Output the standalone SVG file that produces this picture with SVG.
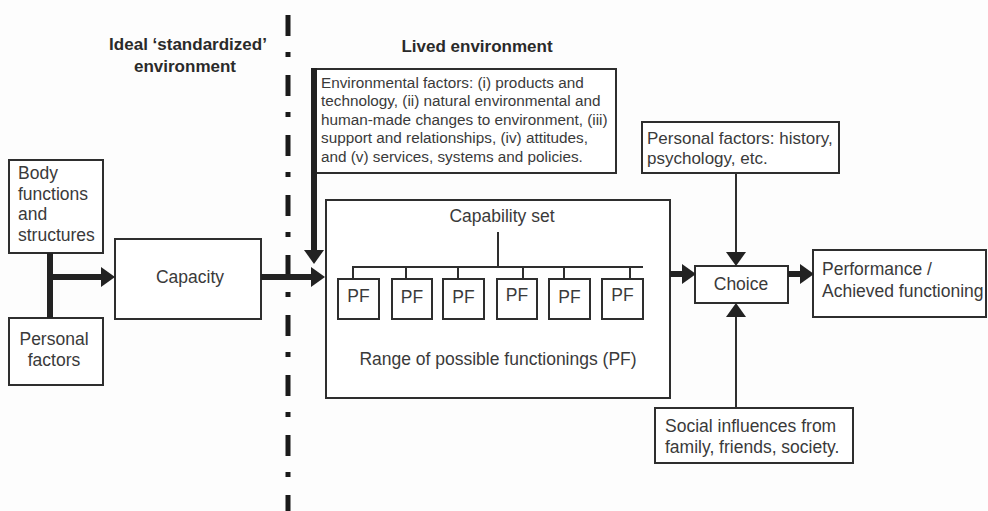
<svg xmlns="http://www.w3.org/2000/svg" width="988" height="511" viewBox="0 0 988 511">
<style>
.box{fill:#fff;stroke:#2e2e2e;stroke-width:2}
.t{font-family:"Liberation Sans",Arial,sans-serif;font-size:17.5px;fill:#3a3a3a}
.s{font-size:15.3px}
.p{font-size:17px}
.b{font-weight:bold;font-size:17px;fill:#2a2a2a}
.m{text-anchor:middle}
.thick{stroke:#222;stroke-width:6;fill:none}
.thin{stroke:#2e2e2e;stroke-width:2;fill:none}
</style>
<defs>
<marker id="ah" markerUnits="userSpaceOnUse" viewBox="0 0 14 20" markerWidth="14" markerHeight="20" refX="0" refY="10" orient="auto">
<path d="M0,0 L14,10 L0,20 Z" fill="#222"/>
</marker>
</defs>
<rect width="988" height="511" fill="#fdfdfd"/>
<line x1="288" y1="15" x2="288" y2="511" stroke="#1a1a1a" stroke-width="5" stroke-dasharray="21 16 5 18"/>
<text class="t b m" x="188" y="50">Ideal ‘standardized’</text>
<text class="t b m" x="185" y="72">environment</text>
<text class="t b m" x="477" y="52">Lived environment</text>

<g id="body">
<rect class="box" x="9" y="160" width="94" height="93"/>
<text class="t" x="18" y="179">Body</text>
<text class="t" x="18" y="199.5">functions</text>
<text class="t" x="18" y="220">and</text>
<text class="t" x="18" y="240.5">structures</text>
</g>
<g id="personal">
<rect class="box" x="9" y="318" width="94" height="67"/>
<text class="t m" x="54" y="345">Personal</text>
<text class="t m" x="54" y="366">factors</text>
</g>
<g id="capacity">
<rect class="box" x="115" y="239" width="146" height="80"/>
<text class="t m" x="190" y="283">Capacity</text>
</g>
<g id="envfactors">
<rect class="box" x="313" y="69" width="303" height="104"/>
<text class="t s" x="321" y="87.5">Environmental factors: (i) products and</text>
<text class="t s" x="321" y="106">technology, (ii) natural environmental and</text>
<text class="t s" x="321" y="124.5">human-made changes to environment, (iii)</text>
<text class="t s" x="321" y="143">support and relationships, (iv) attitudes,</text>
<text class="t s" x="321" y="161.5">and (v) services, systems and policies.</text>
</g>
<g id="capability">
<rect class="box" x="326" y="200" width="344" height="198"/>
<text class="t m" x="502" y="222">Capability set</text>
<path class="thin" d="M498,232 V267 M352,267 H643 M353,267 V279 M406,267 V279 M458,267 V279 M523,267 V279 M564,267 V279 M630,267 V279"/>
<rect class="box" x="338" y="279" width="41" height="40"/>
<rect class="box" x="392" y="279" width="40" height="40"/>
<rect class="box" x="443" y="279" width="41" height="40"/>
<rect class="box" x="497" y="279" width="40" height="40"/>
<rect class="box" x="549" y="279" width="41" height="40"/>
<rect class="box" x="602" y="279" width="41" height="40"/>
<text class="t m" x="358.5" y="302">PF</text>
<text class="t m" x="412" y="303">PF</text>
<text class="t m" x="463.5" y="303">PF</text>
<text class="t m" x="517" y="301">PF</text>
<text class="t m" x="569.5" y="303">PF</text>
<text class="t m" x="622.5" y="301">PF</text>
<text class="t m" x="498" y="365">Range of possible functionings (PF)</text>
</g>
<g id="pfactors2">
<rect class="box" x="642" y="122" width="197" height="51"/>
<text class="t p" x="647" y="144">Personal factors: history,</text>
<text class="t p" x="647" y="164">psychology, etc.</text>
</g>
<g id="choice">
<rect class="box" x="695" y="266" width="93" height="37"/>
<text class="t m" x="741" y="290">Choice</text>
</g>
<g id="performance">
<rect class="box" x="813" y="250" width="173" height="67"/>
<text class="t" x="822" y="275">Performance /</text>
<text class="t" x="822" y="297">Achieved functioning</text>
</g>
<g id="social">
<rect class="box" x="655" y="408" width="198" height="55"/>
<text class="t" x="665" y="432">Social influences from</text>
<text class="t" x="665" y="453">family, friends, society.</text>
</g>
<g id="connectors">
<line class="thick" x1="50" y1="253" x2="50" y2="318"/>
<line class="thick" x1="50" y1="277" x2="101" y2="277" marker-end="url(#ah)"/>
<line class="thick" x1="261" y1="277" x2="311" y2="277" marker-end="url(#ah)"/>
<line class="thick" x1="314" y1="68" x2="314" y2="250" stroke-width="5" marker-end="url(#ah)"/>
<line class="thick" x1="670" y1="274" x2="682" y2="274" stroke-width="5" marker-end="url(#ah)"/>
<line class="thick" x1="788" y1="274" x2="800" y2="274" stroke-width="5" marker-end="url(#ah)"/>
<line class="thin" x1="736" y1="173" x2="736" y2="252" marker-end="url(#ah)"/>
<line class="thin" x1="736" y1="408" x2="736" y2="317" marker-end="url(#ah)"/>
</g>
</svg>
